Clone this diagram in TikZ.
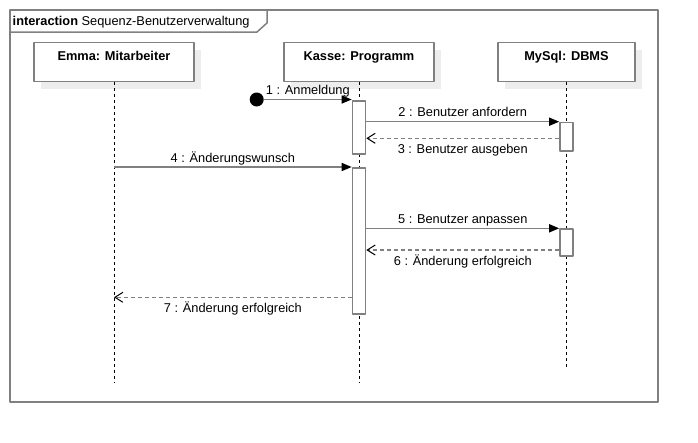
\documentclass[tikz,border=0pt]{standalone}
\usepackage{fontspec}
\setmainfont{Liberation Sans}
\usetikzlibrary{arrows.meta,shadows}

\begin{document}
\begin{tikzpicture}[x=1pt,y=-1pt,line join=round,
	every node/.style={font=\fontsize{12.8}{15}\selectfont},
	frame/.style={draw=black!50,line width=2pt},
	actor/.style={draw=black!50,line width=1.6pt,fill=white,anchor=north,
		minimum height=39pt,inner ysep=4pt,text height=13.6pt,text depth=17.4pt,
		drop shadow={shadow xshift=7pt,shadow yshift=-7pt,fill=black!7,opacity=1}},
	act/.style={draw=black!50,line width=1.6pt,fill=white,anchor=north,
		minimum width=13pt,inner sep=0pt},
	lifeline/.style={draw=black,line width=0.8pt,dash pattern=on 3pt off 3pt},
	call/.style={draw=black!50,line width=1.5pt,
		-{Triangle[length=10pt,width=8pt,color=black]}},
	reply/.style={draw=black!50,line width=1.3pt,dash pattern=on 4pt off 3pt,
		-{Straight Barb[length=8pt,width=10pt,color=black,line width=1pt]}},
	above label/.style={midway,anchor=base,yshift=5pt},
	below label/.style={midway,anchor=base,yshift=-15pt}]
	\useasboundingbox (0,0) rectangle (698,442);
	% frame
	\draw[frame] (10,10) rectangle (658,402);
	\draw[frame,line width=1.5pt] (10,32)--(257,32)--(267,23)--(267,10);
	\node[anchor=base west,inner sep=0pt] (title) at (12.5,25.5)
		{\textbf{interaction} Sequenz-Benutzerverwaltung};
	% participants
	\node[actor,minimum width=160pt] (emma) at (114,41.7) {\bfseries Emma: Mitarbeiter};
	\node[actor,minimum width=150pt] (kasse) at (359,41.7) {\bfseries Kasse: Programm};
	\node[actor,minimum width=137pt] (db) at (566.5,41.7) {\bfseries MySql: DBMS};
	\foreach \n/\e in {emma/383.3,kasse/383.3,db/366.7}
	\draw[lifeline] (\n.south)--(\n.south |- 0,\e);
	% activations
	\node[act,minimum height=53.3pt] (k1) at (359,100) {};
	\node[act,minimum height=146.3pt] (k2) at (359,167) {};
	\node[act,minimum height=28.3pt] (d1) at (566.5,121.7) {};
	\node[act,minimum height=26.7pt] (d2) at (566.5,228.3) {};
	% messages
	\node[circle,fill=black,minimum size=14pt,inner sep=0pt] (start) at (256.7,99.5) {};
	\draw[call] (start)--(start -| k1.west) node[above label] (m1) {1 : Anmeldung};
	\draw[call] (k1.east |- d1.north)--(d1.north west) node[above label] (m2) {2 : Benutzer anfordern};
	\draw[reply] (d1.west |- 0,138.3)--(k1.east |- 0,138.3) node[below label] (m3) {3 : Benutzer ausgeben};
	\draw[call] (emma |- k2.north)--(k2.north west) node[above label] (m4) {4 : Änderungswunsch};
	\draw[call] (k2.east |- d2.north)--(d2.north west) node[above label] (m5) {5 : Benutzer anpassen};
	\draw[reply] (d2.west |- 0,250)--(k2.east |- 0,250) node[below label] (m6) {6 : Änderung erfolgreich};
	\draw[reply] (k2.west |- 0,297.3)--(emma |- 0,297.3) node[below label] (m7) {7 : Änderung erfolgreich};
\end{tikzpicture}
\end{document}
